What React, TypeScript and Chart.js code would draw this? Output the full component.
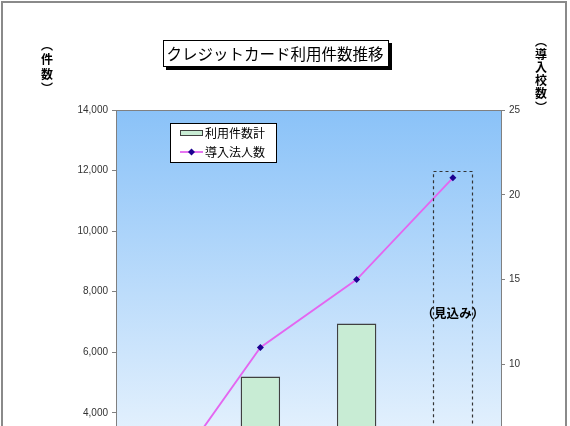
import { useEffect, useRef } from "react";
import Chart from "chart.js/auto";

// chart values
const categories = ["H18年度", "H19年度", "H20年度", "H21年度"];
const usageCounts = [1500, 5200, 6950, 12000];
const corporations = [3, 11, 15, 21];
const forecastIndex = 3;
const forecastLabel = "（見込み）";
const forecastLabelValue = 7300;

const chartTitle = "クレジットカード利用件数推移";
const leftAxisTitle = ["︵", "件", "数", "︶"];
const rightAxisTitle = ["︵", "導", "入", "校", "数", "︶"];
const seriesNames = ["利用件数計", "導入法人数"];

const JP_FONT = '"Noto Sans CJK JP", "Noto Sans", sans-serif';
const NUM_FONT = '"Liberation Sans", Arial, sans-serif';

const BAR_FILL = "#c8ecd4";
const BAR_BORDER = "#404040";
const LINE_COLOR = "#e466f0";
const POINT_COLOR = "#1c0090";

function drawDiamond(ctx: CanvasRenderingContext2D, x: number, y: number, r: number) {
  ctx.beginPath();
  ctx.moveTo(x, y - r);
  ctx.lineTo(x + r, y);
  ctx.lineTo(x, y + r);
  ctx.lineTo(x - r, y);
  ctx.closePath();
  ctx.fill();
}

const decorPlugin = {
  id: "decor",
  beforeDraw(chart: any) {
    const { ctx, chartArea: a, width, height } = chart;
    ctx.save();
    ctx.fillStyle = "#ffffff";
    ctx.fillRect(0, 0, width, height);
    // outer frame
    ctx.strokeStyle = "#8a8a8a";
    ctx.lineWidth = 2;
    ctx.strokeRect(2, 2, 564, height + 10);
    // plot background
    const g = ctx.createLinearGradient(0, a.top, 0, a.bottom);
    g.addColorStop(0, "#8ac2f8");
    g.addColorStop(1, "#ffffff");
    ctx.fillStyle = g;
    ctx.fillRect(a.left, a.top, a.right - a.left, a.bottom - a.top);
    ctx.restore();
  },
  afterDatasetsDraw(chart: any) {
    const { ctx, chartArea: a, scales } = chart;
    ctx.save();

    // forecast bar as dashed box
    const bar = chart.getDatasetMeta(0).data[forecastIndex];
    if (bar) {
      const { x, y, base, width } = bar.getProps(["x", "y", "base", "width"], true);
      ctx.strokeStyle = "#333";
      ctx.lineWidth = 1.2;
      ctx.setLineDash([3, 3]);
      ctx.strokeRect(Math.round(x - width / 2) + 0.5, Math.round(y) + 0.5, Math.round(width), base - y);
      ctx.setLineDash([]);
    }

    // forecast label
    ctx.fillStyle = "#000";
    ctx.font = `bold 12.5px ${JP_FONT}`;
    ctx.textAlign = "center";
    ctx.textBaseline = "middle";
    ctx.fillText(forecastLabel, scales.x.getPixelForValue(forecastIndex), scales.y.getPixelForValue(forecastLabelValue));

    // plot border
    ctx.strokeStyle = "#808080";
    ctx.lineWidth = 1;
    ctx.strokeRect(a.left + 0.5, a.top + 0.5, a.right - a.left, a.bottom - a.top);

    // legend
    const lx = 170.5;
    const ly = 123.5;
    ctx.fillStyle = "#fff";
    ctx.fillRect(lx, ly, 106, 39);
    ctx.strokeStyle = "#000";
    ctx.strokeRect(lx, ly, 106, 39);
    ctx.fillStyle = BAR_FILL;
    ctx.fillRect(180.5, 130.5, 22, 5);
    ctx.strokeStyle = BAR_BORDER;
    ctx.strokeRect(180.5, 130.5, 22, 5);
    ctx.strokeStyle = LINE_COLOR;
    ctx.lineWidth = 1.8;
    ctx.beginPath();
    ctx.moveTo(180, 152);
    ctx.lineTo(203, 152);
    ctx.stroke();
    ctx.fillStyle = POINT_COLOR;
    drawDiamond(ctx, 191.5, 152, 3.5);
    ctx.fillStyle = "#000";
    ctx.font = `12px ${JP_FONT}`;
    ctx.textAlign = "left";
    ctx.fillText(seriesNames[0], 205, 133);
    ctx.fillText(seriesNames[1], 205, 152);

    ctx.restore();
  },
  afterDraw(chart: any) {
    const { ctx } = chart;
    ctx.save();
    // title box with shadow
    ctx.fillStyle = "#000";
    ctx.fillRect(166, 43, 226, 27);
    ctx.fillStyle = "#fff";
    ctx.fillRect(163, 40, 226, 27);
    ctx.strokeStyle = "#000";
    ctx.lineWidth = 1;
    ctx.strokeRect(163.5, 40.5, 225, 26);
    ctx.fillStyle = "#000";
    ctx.font = `15.5px ${JP_FONT}`;
    ctx.textAlign = "center";
    ctx.textBaseline = "middle";
    ctx.fillText(chartTitle, 275, 54);

    // vertical axis titles
    ctx.font = `bold 12px ${JP_FONT}`;
    leftAxisTitle.forEach((ch, i) => ctx.fillText(ch, 47, 45 + i * 14.5));
    rightAxisTitle.forEach((ch, i) => ctx.fillText(ch, 541, 41 + i * 13.2));
    ctx.restore();
  },
};

export default function App() {
  const canvasRef = useRef<HTMLCanvasElement | null>(null);
  const chartRef = useRef<Chart | null>(null);

  useEffect(() => {
    if (!canvasRef.current) return;
    if (chartRef.current) chartRef.current.destroy();

    const tickFont = { family: NUM_FONT, size: 10 };

    chartRef.current = new Chart(canvasRef.current, {
      type: "bar",
      data: {
        labels: categories,
        datasets: [
          {
            type: "bar",
            label: seriesNames[0],
            data: usageCounts,
            yAxisID: "y",
            backgroundColor: usageCounts.map((_, i) => (i === forecastIndex ? "rgba(0,0,0,0)" : BAR_FILL)),
            borderColor: BAR_BORDER,
            borderWidth: usageCounts.map((_, i) => (i === forecastIndex ? 0 : 1.4)),
            categoryPercentage: 1,
            barPercentage: 0.41,
            order: 2,
          },
          {
            type: "line",
            label: seriesNames[1],
            data: corporations,
            yAxisID: "y1",
            borderColor: LINE_COLOR,
            borderWidth: 1.8,
            pointStyle: "rectRot",
            pointRadius: 3.5,
            pointBackgroundColor: POINT_COLOR,
            pointBorderColor: POINT_COLOR,
            pointBorderWidth: 0,
            tension: 0,
            order: 1,
          },
        ],
      },
      options: {
        responsive: false,
        animation: false,
        layout: { padding: { top: 110, left: 0, right: 0, bottom: 56 } },
        plugins: {
          legend: { display: false },
          title: { display: false },
          tooltip: { enabled: false },
        },
        scales: {
          x: {
            grid: { display: false },
            border: { display: false },
            ticks: { font: { family: JP_FONT, size: 11 }, color: "#333" },
            afterFit: (s: any) => {
              s.height = 30;
            },
          },
          y: {
            position: "left",
            min: 0,
            max: 14000,
            ticks: {
              stepSize: 2000,
              font: tickFont,
              color: "#333",
              padding: 4,
              callback: (v: any) => Number(v).toLocaleString("en-US"),
            },
            grid: { drawOnChartArea: false, tickLength: 4, color: "#808080" },
            border: { display: false },
            afterFit: (s: any) => {
              s.width = 116;
            },
          },
          y1: {
            position: "right",
            min: 0,
            max: 25,
            ticks: { stepSize: 5, font: tickFont, color: "#333", padding: 4 },
            grid: { drawOnChartArea: false, tickLength: 4, color: "#808080" },
            border: { display: false },
            afterFit: (s: any) => {
              s.width = 69;
            },
          },
        },
      },
      plugins: [decorPlugin],
    });

    return () => chartRef.current?.destroy();
  }, []);

  return (
    <div style={{ position: "absolute", left: 0, top: 0, width: 570, height: 620 }}>
      <canvas ref={canvasRef} width={570} height={620}></canvas>
    </div>
  );
}
